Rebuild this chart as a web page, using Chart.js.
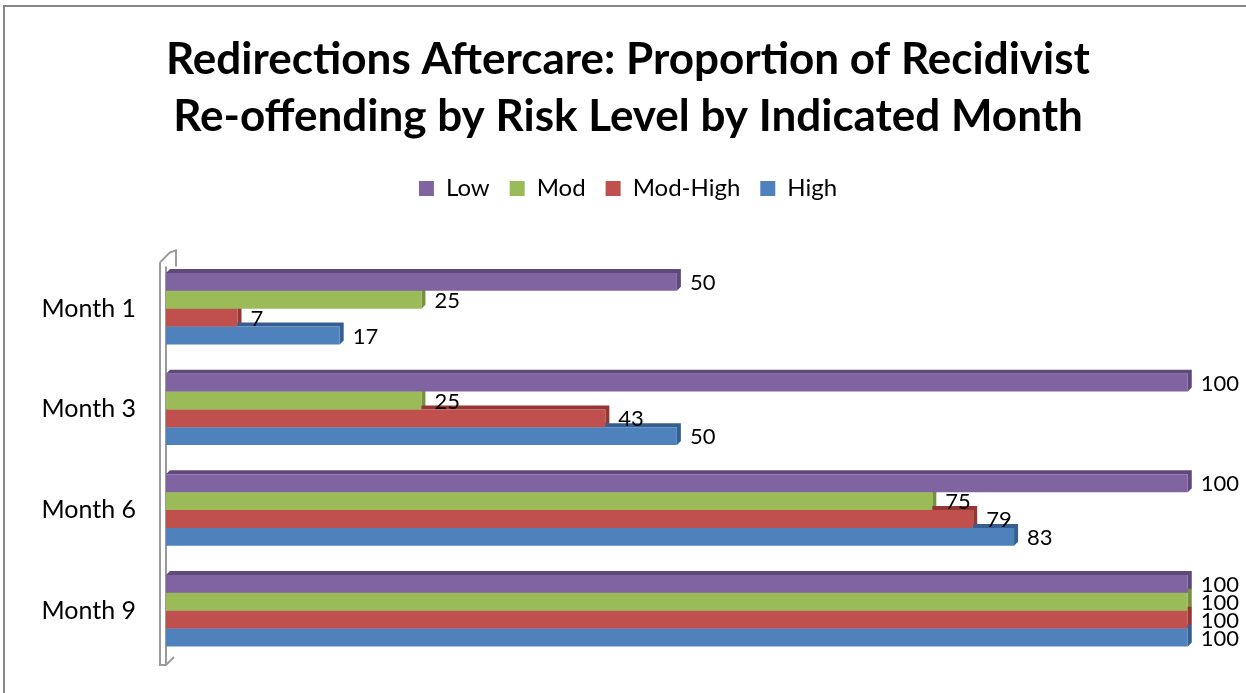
<!DOCTYPE html>
<html>
<head>
<meta charset="utf-8">
<script src="https://cdn.jsdelivr.net/npm/chart.js@4"></script>
<style>
  html, body { margin: 0; padding: 0; background: #fff; }
  #wrap { width: 1246px; height: 693px; }
</style>
</head>
<body>
<div id="wrap"><canvas id="myChart" width="1246" height="693"></canvas></div>
<script>
const months = ['Month 1', 'Month 3', 'Month 6', 'Month 9'];
const lowValues = [50, 100, 100, 100];
const modValues = [25, 25, 75, 100];
const modHighValues = [7, 43, 79, 100];
const highValues = [17, 50, 83, 100];

const FONT = "Lato, 'Open Sans', sans-serif";
const DEPTH = 4;

// gray frame round the chart (top and left only show in the picture)
const framePlugin = {
    id: 'frame',
    beforeDraw(chart) {
        const ctx = chart.ctx;
        ctx.save();
        ctx.strokeStyle = '#868686';
        ctx.lineWidth = 2;
        ctx.beginPath();
        ctx.moveTo(4, 693);
        ctx.lineTo(4, 6);
        ctx.lineTo(1246, 6);
        ctx.stroke();
        ctx.restore();
    }
};

// make room between legend and plot
const legendGap = {
    id: 'legendGap',
    beforeInit(chart) {
        const origFit = chart.legend.fit;
        chart.legend.fit = function () {
            origFit.bind(chart.legend)();
            this.height += 48;
        };
    }
};

// fake 3d: wall and the top / right faces of each bar
const bars3d = {
    id: 'bars3d',
    beforeDatasetsDraw(chart) {
        const ctx = chart.ctx;
        const a = chart.chartArea;
        ctx.save();
        ctx.strokeStyle = '#9a9a9a';
        ctx.lineWidth = 2;
        ctx.beginPath();
        ctx.moveTo(a.left - 6, a.top + 4);
        ctx.lineTo(a.left - 6, a.bottom + 4);
        ctx.lineTo(a.left, a.bottom + 4);
        ctx.lineTo(a.left + 8, a.bottom - 4);
        ctx.moveTo(a.left - 6, a.top + 4);
        ctx.lineTo(a.left + 4, a.top - 6);
        ctx.lineTo(a.left + 10, a.top - 8);
        ctx.lineTo(a.left + 10, a.top + 8);
        ctx.moveTo(a.left, a.top + 8);
        ctx.lineTo(a.left, a.bottom + 4);
        ctx.stroke();

        chart.data.datasets.forEach((ds, i) => {
            const meta = chart.getDatasetMeta(i);
            meta.data.forEach(bar => {
                const top = bar.y - bar.height / 2;
                const bottom = bar.y + bar.height / 2;
                ctx.fillStyle = ds.sideColor;
                ctx.beginPath();
                ctx.moveTo(bar.base, top);
                ctx.lineTo(bar.base + DEPTH, top - DEPTH);
                ctx.lineTo(bar.x + DEPTH, top - DEPTH);
                ctx.lineTo(bar.x + DEPTH, bottom - DEPTH);
                ctx.lineTo(bar.x, bottom);
                ctx.lineTo(bar.x, top);
                ctx.closePath();
                ctx.fill();
            });
        });
        ctx.restore();
    },
    afterDatasetsDraw(chart) {
        const ctx = chart.ctx;
        ctx.save();
        ctx.font = '22px ' + FONT;
        ctx.fillStyle = '#000';
        ctx.textBaseline = 'middle';
        ctx.textAlign = 'left';
        chart.data.datasets.forEach((ds, i) => {
            const meta = chart.getDatasetMeta(i);
            meta.data.forEach((bar, j) => {
                ctx.fillText(String(ds.data[j]), bar.x + 13, bar.y + 1);
            });
        });
        ctx.restore();
    }
};

const ctx = document.getElementById('myChart').getContext('2d');
const myChart = new Chart(ctx, {
    type: 'bar',
    data: {
        labels: months,
        datasets: [
            { label: 'Low', data: lowValues, backgroundColor: '#8064A2', sideColor: '#5F497A' },
            { label: 'Mod', data: modValues, backgroundColor: '#9BBB59', sideColor: '#76923C' },
            { label: 'Mod-High', data: modHighValues, backgroundColor: '#C0504D', sideColor: '#943634' },
            { label: 'High', data: highValues, backgroundColor: '#4F81BD', sideColor: '#365F91' }
        ]
    },
    options: {
        indexAxis: 'y',
        responsive: false,
        animation: false,
        datasets: {
            bar: { barPercentage: 1, categoryPercentage: 0.71, borderWidth: 0 }
        },
        layout: { padding: { left: 10, right: 0, top: 0, bottom: 32 } },
        plugins: {
            title: {
                display: true,
                text: ['Redirections Aftercare: Proportion of Recidivist', 'Re-offending by Risk Level by Indicated Month'],
                color: '#000',
                font: { family: FONT, size: 44, weight: 'bold', lineHeight: 1.3 },
                padding: { top: 31, bottom: 11 }
            },
            legend: {
                display: true,
                labels: {
                    color: '#000',
                    font: { family: FONT, size: 24 },
                    boxWidth: 15,
                    boxHeight: 15,
                    padding: 20
                }
            },
            tooltip: { enabled: false }
        },
        scales: {
            x: {
                display: false,
                min: 0,
                max: 105.7
            },
            y: {
                afterFit(scale) {
                    scale.width = 156;
                    // tick padding should not push the plot up from the bottom
                    scale.paddingTop = 0;
                    scale.paddingBottom = 0;
                },
                grid: { display: false, drawTicks: false },
                border: { display: false },
                ticks: {
                    color: '#000',
                    font: { family: FONT, size: 25 },
                    padding: 30
                }
            }
        }
    },
    plugins: [framePlugin, legendGap, bars3d]
});
</script>
</body>
</html>
